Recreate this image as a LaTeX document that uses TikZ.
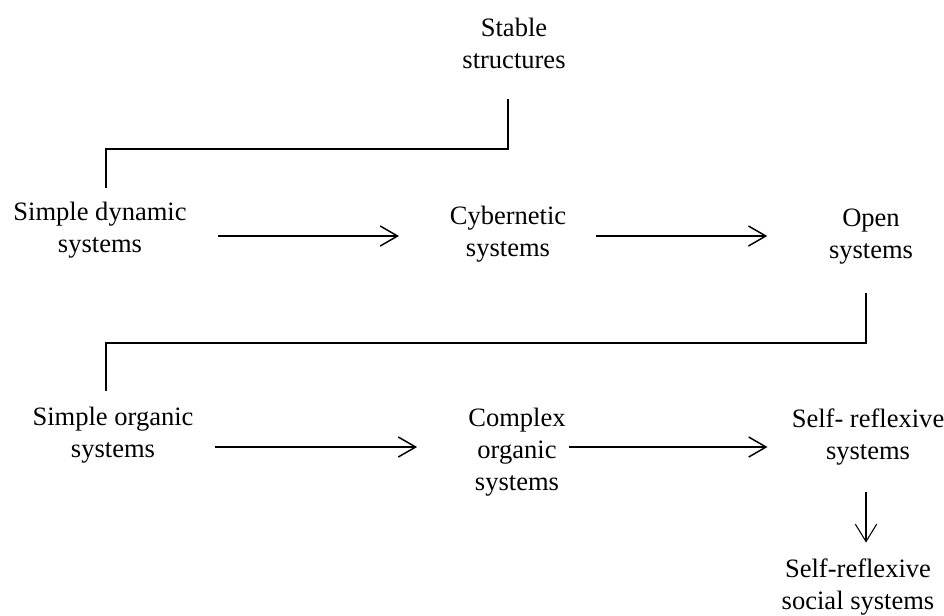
\documentclass[tikz,border=0pt]{standalone}
\usepackage{fontspec}
\setmainfont{Liberation Serif}
\usetikzlibrary{arrows.meta}
\begin{document}
\begin{tikzpicture}[x=0.75pt,y=-0.75pt,
  lbl/.style={align=center,inner sep=0pt,font=\fontsize{19.9}{24}\selectfont},
  link/.style={line width=1.1pt},
  arr/.style={line width=1.1pt,-{Straight Barb[length=13pt,width=15pt,line width=1.1pt]}},
  downarr/.style={line width=0.8pt,-{Straight Barb[length=13pt,width=16pt,line width=0.8pt]}}]
\useasboundingbox (0,0) rectangle (944,615);

% stages
\node[lbl] (stable) at (514,43)  {Stable\\structures};
\node[lbl] (sdyn)   at (100,230) {Simple dynamic\\systems};
\node[lbl] (cyb)    at (508,234) {Cybernetic\\systems};
\node[lbl] (open)   at (871,237) {Open\\systems};
\node[lbl] (sorg)   at (113,435) {Simple organic\\systems};
\node[lbl] (cplx)   at (517,452) {Complex\\organic\\systems};
\node[lbl] (selfr)  at (868,437) {Self- reflexive\\systems};
\node[lbl] (social) at (858,587) {Self-reflexive\\social systems};

% bends, drop line and row levels
\coordinate (b1) at (508,149);
\coordinate (b2) at (866,343);
\coordinate (drop) at (106,0);
\coordinate (r1) at (0,236);
\coordinate (r2) at (0,447);

% elbow links between rows
\draw[link,shorten <=22.5pt,shorten >=10.5pt] (b1 |- stable.south) -- (b1) -| (drop |- sdyn.north);
\draw[link,shorten <=21pt,shorten >=12pt] (b2 |- open.south) -- (b2) -| (drop |- sorg.north);

% first row
\draw[arr,shorten <=23.6pt,shorten >=37.9pt] (sdyn.east |- r1) -- (cyb.west |- r1);
\draw[arr,shorten <=22.1pt,shorten >=46.1pt] (cyb.east |- r1) -- (open.west |- r1);

% second row
\draw[arr,shorten <=15.75pt,shorten >=38.25pt] (sorg.east |- r2) -- (cplx.west |- r2);
\draw[arr,shorten <=2.25pt,shorten >=18pt] (cplx.east |- r2) -- (selfr.west |- r2);

% final step
\draw[downarr,shorten <=20pt,shorten >=12pt] (selfr.south -| b2) -- (social.north -| b2);
\end{tikzpicture}
\end{document}
